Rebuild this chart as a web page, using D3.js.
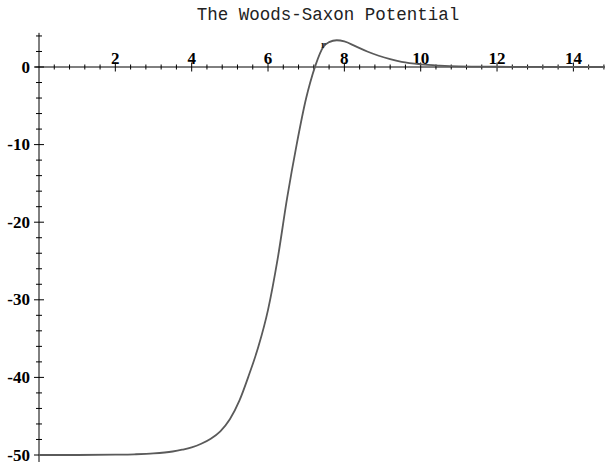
<!DOCTYPE html>
<html>
<head>
<meta charset="utf-8">
<script src="https://cdn.jsdelivr.net/npm/d3@7/dist/d3.min.js"></script>
<style>
  html, body { margin: 0; padding: 0; background: #fff; }
  svg { display: block; }
</style>
</head>
<body>
<svg id="chart" width="605" height="464"></svg>
<script>
// Data
const title = "The Woods-Saxon Potential";
const rValues = [0, 1, 2, 2.5, 3, 3.5, 3.75, 4, 4.25, 4.5, 4.75, 5.0, 5.25, 5.5, 5.75, 6.0, 6.25, 6.5, 6.75, 7.0, 7.1, 7.25, 7.45, 7.6, 7.8, 8.0, 8.3, 8.6, 8.9, 9.2, 9.5, 10, 10.5, 11, 12, 13, 15];
const vValues = [-50, -50, -49.96, -49.91, -49.8, -49.55, -49.32, -49.02, -48.55, -47.9, -46.95, -45.4, -43.0, -39.7, -36.0, -31.3, -24.8, -16.9, -10.0, -4.0, -2.1, 0.3, 2.6, 3.2, 3.45, 3.3, 2.65, 2.0, 1.45, 1.0, 0.65, 0.33, 0.17, 0.08, 0.03, 0.01, 0];
const xTickValues = [2, 4, 6, 8, 10, 12, 14];
const yTickValues = [-50, -40, -30, -20, -10, 0];
const markLabel = "r";

const svg = d3.select("#chart");
const x = d3.scaleLinear().domain([0, 15]).range([39, 39 + 15 * 38.17]);
const y = d3.scaleLinear().domain([0, -50]).range([67, 455]);

// Title
svg.append("text")
  .attr("x", 328).attr("y", 20)
  .attr("text-anchor", "middle")
  .attr("font-family", "'Liberation Mono', 'Courier New', monospace")
  .attr("font-size", 17.5)
  .attr("fill", "#222")
  .text(title);

const labelFont = "'Liberation Serif', 'Times New Roman', serif";

// X axis (at y = 0)
const xAxisG = svg.append("g");
xAxisG.append("line")
  .attr("x1", x(-0.1)).attr("x2", 605)
  .attr("y1", y(0)).attr("y2", y(0))
  .attr("stroke", "#000").attr("stroke-width", 1);
const xMinor = d3.range(0.4, 15, 0.4).filter(v => Math.abs(v / 2 - Math.round(v / 2)) > 1e-6);
xAxisG.selectAll(".xminor").data(xMinor).join("line")
  .attr("x1", d => x(d)).attr("x2", d => x(d))
  .attr("y1", y(0) - 2.5).attr("y2", y(0) + 2.5)
  .attr("stroke", "#000").attr("stroke-width", 1);
xAxisG.selectAll(".xmajor").data(xTickValues).join("line")
  .attr("x1", d => x(d)).attr("x2", d => x(d))
  .attr("y1", y(0) - 4.5).attr("y2", y(0) + 4.5)
  .attr("stroke", "#000").attr("stroke-width", 1);
xAxisG.selectAll(".xlabel").data(xTickValues).join("text")
  .attr("x", d => x(d)).attr("y", y(0) - 3)
  .attr("text-anchor", "middle")
  .attr("font-family", labelFont)
  .attr("font-weight", "bold")
  .attr("font-size", 17)
  .text(d => d);

// Y axis (at x = 0)
const yAxisG = svg.append("g");
yAxisG.append("line")
  .attr("x1", x(0)).attr("x2", x(0))
  .attr("y1", y(4.4)).attr("y2", y(-50.9))
  .attr("stroke", "#000").attr("stroke-width", 1);
const yMinor = d3.range(-50, 5, 2).filter(v => v % 10 !== 0);
yAxisG.selectAll(".yminor").data(yMinor).join("line")
  .attr("x1", x(0) - 3).attr("x2", x(0) + 3)
  .attr("y1", d => y(d)).attr("y2", d => y(d))
  .attr("stroke", "#000").attr("stroke-width", 1);
yAxisG.selectAll(".ymajor").data(yTickValues).join("line")
  .attr("x1", x(0) - 5).attr("x2", x(0) + 5)
  .attr("y1", d => y(d)).attr("y2", d => y(d))
  .attr("stroke", "#000").attr("stroke-width", 1);
yAxisG.selectAll(".ylabel").data(yTickValues).join("text")
  .attr("x", x(0) - 9).attr("y", d => y(d))
  .attr("dy", "0.33em")
  .attr("text-anchor", "end")
  .attr("font-family", labelFont)
  .attr("font-weight", "bold")
  .attr("font-size", 17)
  .text(d => d);

// Curve
const pts = rValues.map((r, i) => [r, vValues[i]]);
const line = d3.line()
  .x(d => x(d[0])).y(d => y(d[1]))
  .curve(d3.curveMonotoneX);
svg.append("path")
  .datum(pts)
  .attr("d", line)
  .attr("fill", "none")
  .attr("stroke", "#5a5a5a")
  .attr("stroke-width", 1.8);

// small label near the curve
svg.append("text")
  .attr("x", x(7.45)).attr("y", y(2.4))
  .attr("text-anchor", "middle")
  .attr("font-family", labelFont)
  .attr("font-weight", "bold")
  .attr("font-size", 11)
  .attr("fill", "#222")
  .text(markLabel);
</script>
</body>
</html>
